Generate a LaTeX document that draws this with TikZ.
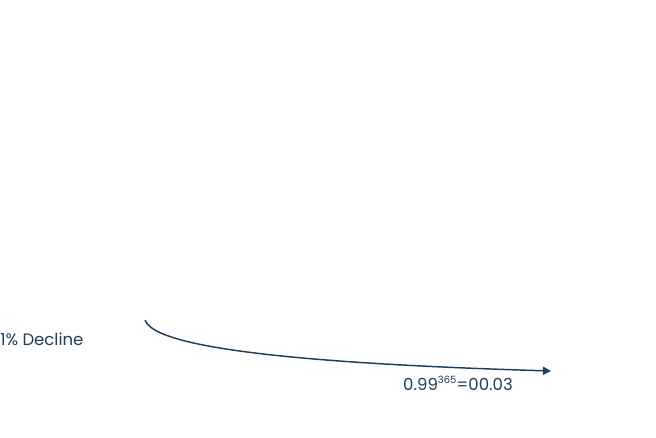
\documentclass[tikz,border=0pt]{standalone}
\usepackage{fontspec}
\setmainfont{Poppins}
\usepackage{tikz}
\usetikzlibrary{calc,arrows.meta,positioning}
\definecolor{navy}{HTML}{1F3D5C}

\begin{document}
\begin{tikzpicture}[x=0.75pt, y=-0.75pt, every node/.style={text=navy, font=\fontsize{12.4}{14}\selectfont, inner sep=0pt}]
   \useasboundingbox (0,0) rectangle (656,438);
   \node[anchor=west] (decl) at (0,339) {1\% Decline};
   \coordinate (start) at (145,320);
   \coordinate (stop) at (551,371);
   \node (res) at (458,383) {0.99\raisebox{0.75ex}{\fontsize{7.5}{8}\selectfont 365}=00.03};

  \draw[navy, line width=1.1pt, -{Triangle[length=6pt,width=6pt]}]
    (start) .. controls (155,350) and (320,364) .. (stop);
  \end{tikzpicture}
\end{document}
